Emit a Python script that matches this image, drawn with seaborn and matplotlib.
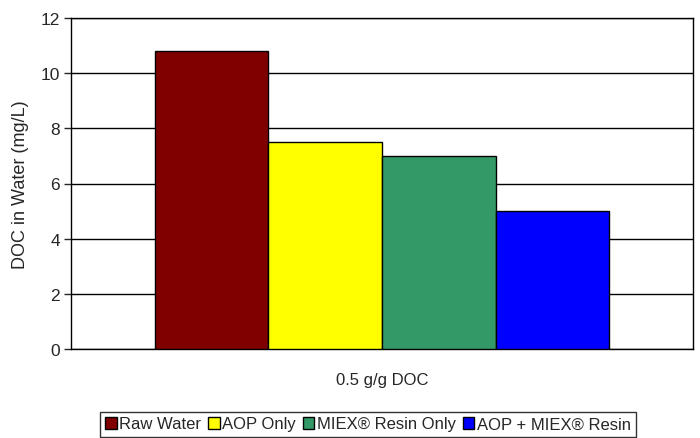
"""Bar chart of DOC in water after each treatment."""
import matplotlib.pyplot as plt
import pandas as pd
import seaborn as sns

categories = ['0.5 g/g DOC']
treatments = ['Raw Water', 'AOP Only', 'MIEX® Resin Only', 'AOP + MIEX® Resin']
doc_values = [10.8, 7.5, 7.0, 5.0]
colors = ['#800000', '#FFFF00', '#339966', '#0000FF']

df = pd.DataFrame({'dose': categories * len(treatments),
                   'treatment': treatments,
                   'doc': doc_values})

sns.set_style('white')
plt.rcParams['font.family'] = ['Liberation Sans', 'DejaVu Sans']

fig = plt.figure(figsize=(7, 4.39), dpi=100)
ax = fig.add_axes([71 / 700, 1 - 350 / 439, 622 / 700, 331 / 439])

sns.barplot(data=df, x='dose', y='doc', hue='treatment', hue_order=treatments,
            palette=colors, width=0.73, edgecolor='black', linewidth=1,
            saturation=1, ax=ax, zorder=3)

ax.set_ylim(0, 12)
ax.set_yticks(range(0, 13, 2))
ax.yaxis.grid(True, color='black', linewidth=1)
ax.set_axisbelow(True)
ax.set_xlim(-0.5, 0.5)
ax.set_xlabel('')
ax.set_ylabel('DOC in Water (mg/L)', fontsize=13, labelpad=8)
ax.tick_params(axis='y', left=True, length=5, width=1, labelsize=12.5, pad=3)
ax.tick_params(axis='x', bottom=False, labelsize=12, pad=13)
for side in ['left', 'bottom', 'top', 'right']:
    ax.spines[side].set_color('black')
    ax.spines[side].set_linewidth(1)

leg = ax.legend(loc='center', bbox_to_anchor=(368 / 700, 1 - 425 / 439),
                bbox_transform=fig.transFigure, ncol=4, frameon=True,
                fancybox=False, edgecolor='black', fontsize=12,
                handlelength=0.7, handleheight=0.7, handletextpad=0.15,
                columnspacing=0.4, borderpad=0.3, borderaxespad=0)
leg.get_frame().set_linewidth(1)

plt.savefig('out.png', dpi=100)
